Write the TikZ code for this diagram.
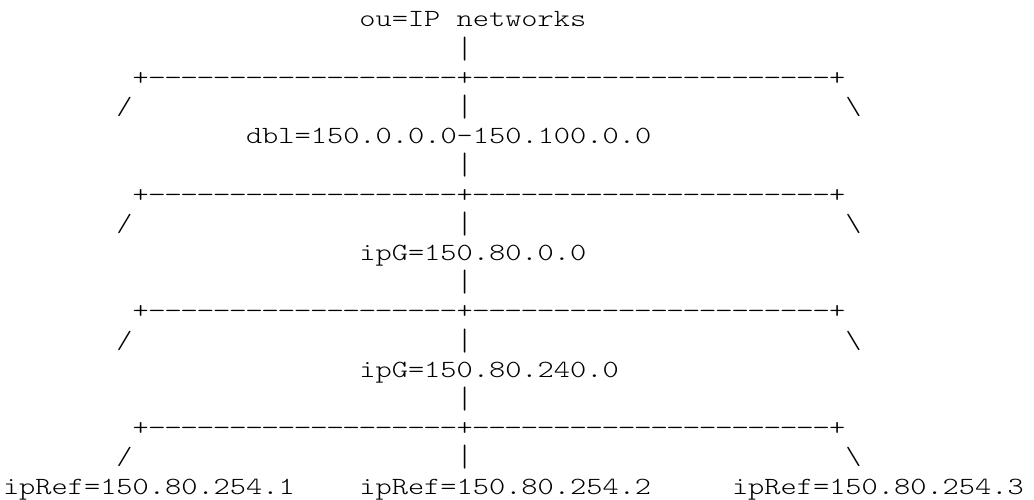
\documentclass[tikz,border=0pt]{standalone}
\usepackage{fontspec}
\usepackage{graphicx}
\setmonofont[FakeStretch=1.25]{lmmonolt10-regular.otf}
\newcommand{\dsh}{\makebox[16.2pt][c]{\scalebox{1.12}[1]{-}}}
\newcommand{\vbar}{\makebox[16.2pt]{\raisebox{-2pt}{\scalebox{1}[1.25]{|}}}}
\newcommand{\dsha}{\dsh\dsh\dsh\dsh\dsh\dsh\dsh\dsh\dsh\dsh\dsh\dsh\dsh\dsh\dsh\dsh\dsh\dsh\dsh}
\newcommand{\dshb}{\dsha\dsh\dsh\dsh}
\begin{document}
\begin{tikzpicture}[x=1pt,y=1pt,
  txt/.style={inner sep=0pt, outer sep=0pt, anchor=base west, font=\fontsize{24.7}{29}\selectfont\ttfamily}]
\useasboundingbox (0,0) rectangle (1034,500);
\def\cw{16.2}
\def\lh{29.19}
\newcommand{\colx}[1]{3+#1*\cw}
\newcommand{\rowy}[1]{500-27-#1*\lh}
\node[txt] (root) at ({\colx{22}},{\rowy{0}}) {ou=IP networks};
\node[txt] (v1) at ({\colx{28}},{\rowy{1}}) {\vbar};
\foreach \r/\n in {2/a,6/b,10/c,14/d}{
  \node[txt] (h\n) at ({\colx{8}},{\rowy{\r}}) {+\dsha+\dshb+};
}
\foreach \r/\n in {3/a,7/b,11/c,15/d}{
  \node[txt] (sl\n) at ({\colx{7}},{\rowy{\r}}) {/};
  \node[txt] (vm\n) at ({\colx{28}},{\rowy{\r}}) {\vbar};
  \node[txt] (bs\n) at ({\colx{52}},{\rowy{\r}}) {\textbackslash};
}
\node[txt] (dbl) at ({\colx{15}},{\rowy{4}}) {dbl=150.0.0.0-150.100.0.0};
\node[txt] (v5) at ({\colx{28}},{\rowy{5}}) {\vbar};
\node[txt] (ipg1) at ({\colx{22}},{\rowy{8}}) {ipG=150.80.0.0};
\node[txt] (v9) at ({\colx{28}},{\rowy{9}}) {\vbar};
\node[txt] (ipg2) at ({\colx{22}},{\rowy{12}}) {ipG=150.80.240.0};
\node[txt] (v13) at ({\colx{28}},{\rowy{13}}) {\vbar};
\node[txt] (ref1) at ({\colx{0}},{\rowy{16}}) {ipRef=150.80.254.1};
\node[txt] (ref2) at ({\colx{22}},{\rowy{16}}) {ipRef=150.80.254.2};
\node[txt] (ref3) at ({\colx{45}},{\rowy{16}}) {ipRef=150.80.254.3};
\end{tikzpicture}
\end{document}
